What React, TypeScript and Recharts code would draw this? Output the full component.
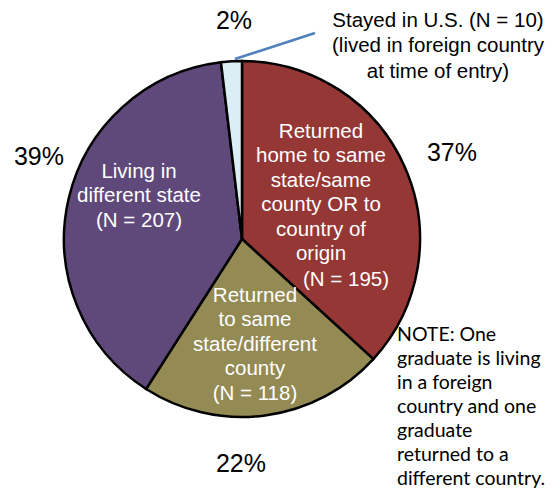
import React from 'react';
import { PieChart, Pie, Cell } from 'recharts';

// slices in clockwise order starting at 12 o'clock
const categories = [
  'Returned home to same state/same county OR to country of origin',
  'Returned to same state/different county',
  'Living in different state',
  'Stayed in U.S.',
];
const counts = [195, 118, 207, 10];
const percentLabels = ['37%', '22%', '39%', '2%'];
const sliceLines = [
  ['Returned', 'home to same', 'state/same', 'county OR to', 'country of', 'origin'],
  ['Returned', 'to same', 'state/different', 'county', '(N = 118)'],
  ['Living in', 'different state', '(N = 207)'],
  [],
];
const colors = ['#953735', '#948A54', '#5F497A', '#DBEEF4'];
const noteLines = [
  'NOTE: One',
  'graduate is living',
  'in a foreign',
  'country and one',
  'graduate',
  'returned to a',
  'different country.',
];
const stayedLines = ['Stayed in U.S. (N = 10)', '(lived in foreign country', 'at time of entry)'];

const data = categories.map((name, i) => ({ name, value: counts[i] }));

// label offsets relative to the pie centre
const innerPos = [
  { dx: 79, dy: -109 },
  { dx: 13, dy: 55 },
  { dx: -103, dy: -69 },
  { dx: 0, dy: 0 },
];
const outerPos = [
  { dx: 210, dy: -87 },
  { dx: -1, dy: 224 },
  { dx: -203, dy: -83 },
  { dx: -8, dy: -219 },
];

const FONT = 'Arial, "Liberation Sans", sans-serif';

const renderLabel = (props: any) => {
  const { cx, cy, index } = props;
  const inner = innerPos[index];
  const outer = outerPos[index];
  const lines = sliceLines[index];
  return (
    <g>
      {lines.map((t, j) => (
        <text
          key={j}
          x={cx + inner.dx}
          y={cy + inner.dy + j * 24.5}
          fill="#fff"
          fontSize={20.5}
          fontFamily={FONT}
          textAnchor="middle"
          dominantBaseline="central"
        >
          {t}
        </text>
      ))}
      {index === 0 && (
        <text
          x={cx + 104}
          y={cy + 39}
          fill="#fff"
          fontSize={20.5}
          fontFamily={FONT}
          textAnchor="middle"
          dominantBaseline="central"
        >
          (N = 195)
        </text>
      )}
      <text
        x={cx + outer.dx}
        y={cy + outer.dy}
        fill="#000"
        fontSize={25}
        fontFamily={FONT}
        textAnchor="middle"
        dominantBaseline="central"
      >
        {percentLabels[index]}
      </text>
    </g>
  );
};

export default function App() {
  return (
    <div style={{ position: 'absolute', left: 0, top: 0, width: 560, height: 504, background: '#fff' }}>
      <PieChart width={560} height={504} margin={{ top: 0, right: 0, bottom: 0, left: 0 }}>
        <Pie
          data={data}
          dataKey="value"
          cx={242}
          cy={239}
          outerRadius={178}
          startAngle={90}
          endAngle={-270}
          stroke="#000"
          strokeWidth={2.5}
          label={renderLabel}
          labelLine={false}
          isAnimationActive={false}
        >
          {data.map((d, i) => (
            <Cell key={d.name} fill={colors[i]} />
          ))}
        </Pie>
        <line x1={235} y1={59} x2={315} y2={33} stroke="#4F81BD" strokeWidth={2.5} />
        {stayedLines.map((t, j) => (
          <text
            key={t}
            x={438}
            y={19 + j * 25.5}
            fontSize={20.5}
            fontFamily={FONT}
            textAnchor="middle"
            dominantBaseline="central"
            fill="#000"
          >
            {t}
          </text>
        ))}
        {noteLines.map((t, j) => (
          <text
            key={t}
            x={397}
            y={333 + j * 24}
            fontSize={19.5}
            fontFamily='Lato, "Open Sans", sans-serif'
            dominantBaseline="central"
            fill="#000"
          >
            {t}
          </text>
        ))}
      </PieChart>
    </div>
  );
}
